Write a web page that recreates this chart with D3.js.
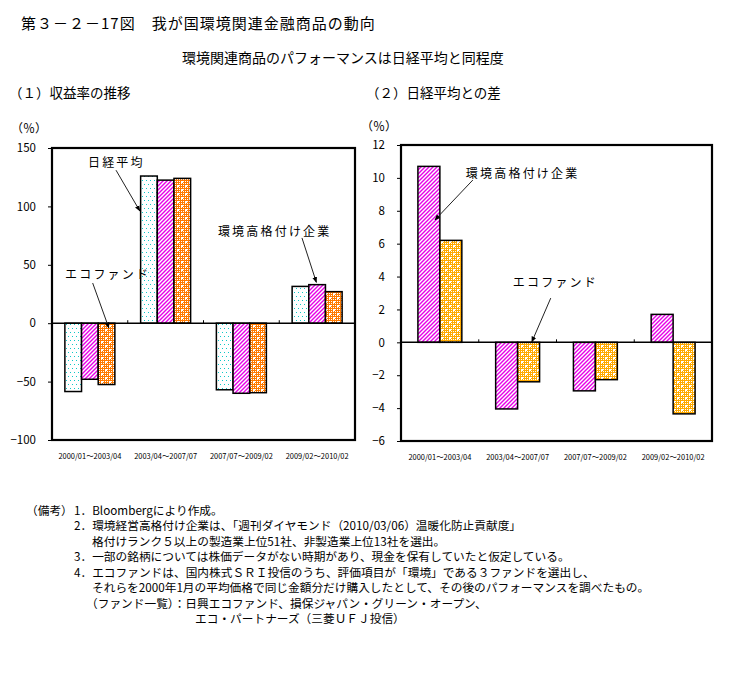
<!DOCTYPE html>
<html><head><meta charset="utf-8">
<script src="https://cdn.jsdelivr.net/npm/d3@7"></script>
<style>
html,body{margin:0;padding:0;background:#fff;}
text{font-family:"Noto Sans CJK JP","Noto Sans",sans-serif;fill:#000;}
</style></head>
<body><svg id="chart" width="731" height="680"></svg>
<script>
// ---------------- data ----------------
const categories = ["2000/01～2003/04","2003/04～2007/07","2007/07～2009/02","2009/02～2010/02"];
const seriesLeft = ["日経平均","環境高格付け企業","エコファンド"];
const seriesRight = ["環境高格付け企業","エコファンド"];
const nikkeiReturn = [-58.5, 126, -57, 31.5];
const ratedReturn  = [-48, 122.5, -60, 33];
const ecoReturn    = [-52.5, 124, -59.5, 27];
const ratedDiff = [10.7, -4.05, -2.95, 1.7];
const ecoDiff   = [6.2, -2.4, -2.27, -4.35];
const leftTicks  = [150, 100, 50, 0, -50, -100];
const rightTicks = [12, 10, 8, 6, 4, 2, 0, -2, -4, -6];
const titleText = "第３－２－17図　我が国環境関連金融商品の動向";
const subtitleText = "環境関連商品のパフォーマンスは日経平均と同程度";
const panelTitles = ["（１）収益率の推移","（２）日経平均との差"];
const unitLabel = "（％）";
const notes = [
  {t:"（備考）", x:26},
  {t:"1．Bloombergにより作成。", x:74, same:true},
  {t:"2．環境経営高格付け企業は、「週刊ダイヤモンド（2010/03/06）温暖化防止貢献度」", x:74},
  {t:"格付けランク５以上の製造業上位51社、非製造業上位13社を選出。", x:92},
  {t:"3．一部の銘柄については株価データがない時期があり、現金を保有していたと仮定している。", x:74},
  {t:"4．エコファンドは、国内株式ＳＲＩ投信のうち、評価項目が「環境」である３ファンドを選出し、", x:74},
  {t:"それらを2000年1月の平均価格で同じ金額分だけ購入したとして、その後のパフォーマンスを調べたもの。", x:92},
  {t:"（ファンド一覧）：日興エコファンド、損保ジャパン・グリーン・オープン、", x:86},
  {t:"エコ・パートナーズ（三菱ＵＦＪ投信）", x:195}
];

// ---------------- setup ----------------
const svg = d3.select("#chart");
svg.append("rect").attr("width",731).attr("height",680).attr("fill","#fff");
const defs = svg.append("defs");

function dotPattern(id, color){
  const p = defs.append("pattern").attr("id",id).attr("patternUnits","userSpaceOnUse").attr("width",4).attr("height",8);
  p.append("rect").attr("width",4).attr("height",8).attr("fill","#fff");
  p.append("rect").attr("x",0).attr("y",0).attr("width",1).attr("height",1).attr("fill",color);
  p.append("rect").attr("x",2).attr("y",4).attr("width",1).attr("height",1).attr("fill",color);
}
function hatchPattern(id, color){
  const p = defs.append("pattern").attr("id",id).attr("patternUnits","userSpaceOnUse").attr("width",4).attr("height",4);
  p.append("rect").attr("width",4).attr("height",4).attr("fill","#fff");
  p.append("path").attr("d","M-1,1 L1,-1 M0,4 L4,0 M3,5 L5,3").attr("stroke",color).attr("stroke-width",1.4);
}
function checkPattern(id, color){
  const p = defs.append("pattern").attr("id",id).attr("patternUnits","userSpaceOnUse").attr("width",8).attr("height",8);
  p.append("rect").attr("width",8).attr("height",8).attr("fill",color);
  for(let i=0;i<8;i+=2) for(let j=0;j<8;j+=2){
    p.append("rect").attr("x",i+1).attr("y",j+1).attr("width",1).attr("height",1).attr("fill","#fff");
  }
  p.append("rect").attr("x",1).attr("y",1).attr("width",2).attr("height",2).attr("fill","#fff");
  p.append("rect").attr("x",5).attr("y",5).attr("width",2).attr("height",2).attr("fill","#fff");
}
dotPattern("pNikkei","#10c8c8");
hatchPattern("pRated","#e800e8");
checkPattern("pEcoL","#ff7a00");
checkPattern("pEcoR","#ffaa00");

defs.append("marker").attr("id","arr").attr("viewBox","0 0 10 10").attr("refX",9).attr("refY",5)
  .attr("markerWidth",6).attr("markerHeight",6).attr("markerUnits","userSpaceOnUse").attr("orient","auto")
  .append("path").attr("d","M0,1 L10,5 L0,9 Z").attr("fill","#000");

// ---------------- headers ----------------
svg.append("text").attr("x",21).attr("y",22).attr("dominant-baseline","central")
  .attr("font-size",15).attr("letter-spacing",1).text(titleText);
svg.append("text").attr("x",182).attr("y",57).attr("dominant-baseline","central")
  .attr("font-size",14).text(subtitleText);
svg.append("text").attr("x",9).attr("y",92).attr("dominant-baseline","central")
  .attr("font-size",13.5).text(panelTitles[0]);
svg.append("text").attr("x",366).attr("y",92).attr("dominant-baseline","central")
  .attr("font-size",13.5).text(panelTitles[1]);

// ---------------- panel builder ----------------
function panel(cfg){
  const g = svg.append("g");
  const x0 = d3.scaleBand().domain(categories).range([cfg.left, cfg.right]).paddingInner(0).paddingOuter(0);
  const groupW = x0.bandwidth()*cfg.groupFrac;
  const x1 = d3.scaleBand().domain(cfg.series.map(s=>s.name)).range([0, groupW]).padding(0);
  const y = d3.scaleLinear().domain(cfg.domain).range([cfg.bottom, cfg.top]);
  const off = (x0.bandwidth()-groupW)/2;

  // unit label
  g.append("text").attr("x",cfg.unitX).attr("y",cfg.unitY).attr("dominant-baseline","central")
    .attr("font-size",12).text(unitLabel);

  // y axis
  const ax = g.append("g").attr("transform",`translate(${cfg.left},0)`)
    .call(d3.axisLeft(y).tickValues(cfg.ticks).tickSize(4).tickPadding(12).tickFormat(d3.format("d")));
  ax.select(".domain").remove();
  ax.selectAll(".tick line").attr("stroke","#000").attr("stroke-width",1);
  ax.selectAll(".tick text").attr("font-size",11.5).attr("font-family","'Noto Sans CJK JP',sans-serif").attr("fill","#000");

  // bars
  cfg.series.forEach(s=>{
    g.append("g").selectAll("rect").data(s.values).join("rect")
      .attr("x",(d,i)=>x0(categories[i])+off+x1(s.name))
      .attr("y",d=>y(Math.max(0,d)))
      .attr("width",x1.bandwidth())
      .attr("height",d=>Math.abs(y(d)-y(0)))
      .attr("fill",`url(#${s.pat})`)
      .attr("stroke","#000").attr("stroke-width",1.5);
  });

  // zero line
  g.append("line").attr("x1",cfg.left).attr("x2",cfg.right).attr("y1",y(0)).attr("y2",y(0))
    .attr("stroke","#000").attr("stroke-width",1.5);
  // category tick marks
  g.selectAll(".ctick").data(categories.slice(1)).join("line")
    .attr("x1",d=>x0(d)).attr("x2",d=>x0(d)).attr("y1",y(0)-3).attr("y2",y(0))
    .attr("stroke","#000").attr("stroke-width",1);

  // frame
  g.append("rect").attr("x",cfg.left).attr("y",cfg.top).attr("width",cfg.right-cfg.left).attr("height",cfg.bottom-cfg.top)
    .attr("fill","none").attr("stroke","#000").attr("stroke-width",2.2);

  // category labels
  g.selectAll(".clab").data(categories).join("text")
    .attr("x",d=>x0(d)+x0.bandwidth()/2).attr("y",cfg.bottom+15).attr("dominant-baseline","central")
    .attr("text-anchor","middle").attr("font-size",8).attr("textLength",63).attr("lengthAdjust","spacingAndGlyphs")
    .text(d=>d);

  // annotations (positions in band units / data values)
  const px = t => cfg.left + t*x0.step();
  cfg.annots.forEach(a=>{
    g.append("text").attr("x",px(a.tx)).attr("y",y(a.ty)).attr("dominant-baseline","central")
      .attr("font-size",12).attr("letter-spacing",2.2).text(a.text);
    g.append("line").attr("x1",px(a.ax1)).attr("y1",y(a.ay1)).attr("x2",px(a.ax2)).attr("y2",y(a.ay2))
      .attr("stroke","#222").attr("stroke-width",1).attr("marker-end","url(#arr)");
  });
}

panel({
  left:52, right:355, top:148, bottom:440, domain:[-100,150], ticks:leftTicks, groupFrac:0.66, unitX:11, unitY:127,
  series:[
    {name:seriesLeft[0], values:nikkeiReturn, pat:"pNikkei"},
    {name:seriesLeft[1], values:ratedReturn, pat:"pRated"},
    {name:seriesLeft[2], values:ecoReturn, pat:"pEcoL"}
  ],
  annots:[
    {text:"日経平均", tx:0.475, ty:138.3, ax1:0.845, ay1:131, ax2:1.16, ay2:96},
    {text:"環境高格付け企業", tx:2.19, ty:79.2, ax1:3.30, ay1:73, ax2:3.49, ay2:35},
    {text:"エコファンド", tx:0.172, ty:42.9, ax1:0.537, ay1:34.4, ax2:0.75, ay2:-4}
  ]
});

panel({
  left:401, right:712, top:145, bottom:441, domain:[-6,12], ticks:rightTicks, groupFrac:0.565, unitX:361, unitY:125,
  series:[
    {name:seriesRight[0], values:ratedDiff, pat:"pRated"},
    {name:seriesRight[1], values:ecoDiff, pat:"pEcoR"}
  ],
  annots:[
    {text:"環境高格付け企業", tx:0.834, ty:10.32, ax1:0.924, ay1:9.87, ax2:0.436, ay2:7.44},
    {text:"エコファンド", tx:1.438, ty:3.67, ax1:1.926, ay1:2.69, ax2:1.682, ay2:0.02}
  ]
});

// ---------------- notes ----------------
let row = 0;
notes.forEach((n,i)=>{
  if(i>0 && !n.same) row++;
  svg.append("text").attr("x",n.x).attr("y",509+row*15.5).attr("dominant-baseline","central")
    .attr("font-size",11.7).text(n.t);
});
</script>
</body></html>
